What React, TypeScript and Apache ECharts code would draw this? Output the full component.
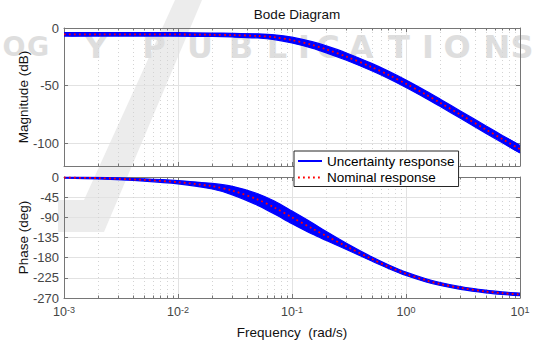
import React, { useEffect, useRef } from "react";
import * as echarts from "echarts";

// ---- data ----
const freq = [0.001, 0.002, 0.005, 0.01, 0.02, 0.03, 0.05, 0.07, 0.1, 0.15, 0.2, 0.3, 0.5, 0.7, 1, 1.5, 2, 3, 5, 7, 10];
const magNominal = [-5.5, -5.5, -5.5, -5.6, -5.9, -6.2, -6.9, -8.0, -10.5, -14.7, -18.6, -24.9, -34.0, -40.7, -48.5, -58.0, -65.1, -75.3, -88.2, -96.6, -105.4];
const magUpper = [-4.0, -4.0, -4.0, -4.1, -4.4, -4.6, -5.1, -5.9, -8.0, -11.9, -15.6, -21.7, -30.8, -37.5, -45.3, -54.8, -61.9, -72.1, -85.0, -93.4, -102.2];
const magLower = [-7.0, -7.0, -7.0, -7.1, -7.4, -7.8, -8.7, -10.1, -13.0, -17.5, -21.6, -28.1, -37.2, -43.9, -51.7, -61.2, -68.3, -78.5, -91.4, -99.8, -108.6];
const phaseNominal = [-1.5, -2.5, -6.5, -11.6, -20.6, -30.3, -50.3, -68.1, -90.1, -114.7, -131.7, -154.8, -182.8, -199.9, -216.0, -230.6, -238.7, -247.5, -255.5, -259.2, -262.1];
const phaseUpper = [-0.4, -0.7, -3.9, -7.9, -14.4, -20.8, -37.3, -53.6, -76.1, -102.2, -121.7, -147.8, -178.0, -195.7, -212.1, -227.0, -235.4, -244.4, -252.6, -256.4, -259.3];
const phaseLower = [-2.6, -4.3, -9.1, -15.3, -26.8, -39.8, -63.3, -82.6, -104.1, -127.2, -141.7, -161.8, -187.6, -204.1, -219.9, -234.2, -242.0, -250.6, -258.4, -262.0, -264.9];
const minorFreq = [
  0.002, 0.003, 0.004, 0.005, 0.006, 0.007, 0.008, 0.009,
  0.02, 0.03, 0.04, 0.05, 0.06, 0.07, 0.08, 0.09,
  0.2, 0.3, 0.4, 0.5, 0.6, 0.7, 0.8, 0.9,
  2, 3, 4, 5, 6, 7, 8, 9,
];
const freqRange = [0.001, 10];
const magRange = [-120, 0];
const phaseRange = [-270, 0];
const phaseStep = 45;
const legendNames = ["Uncertainty response", "Nominal response"];
const titleText = "Bode Diagram";
const magName = "Magnitude (dB)";
const phaseName = "Phase (deg)";
const freqName = "Frequency  (rad/s)";
const watermarkLetters: [string, number, number][] = [
  ["O", 14, 27], ["G", 38, 27], ["Y", 96, 32], ["P", 154, 32], ["U", 200, 32], ["B", 241, 32], ["L", 277, 32], ["I", 304, 32],
  ["C", 328, 32], ["A", 361, 32], ["T", 399, 32], ["I", 428, 32], ["O", 457, 32], ["N", 497, 32], ["S", 522, 32],
];

// ---- styles ----
const FONT = "'Liberation Sans', Arial, Helvetica, sans-serif";
const AX = "#767676";
const LBL = "#454545";
const GRID = "#e2e2e2";
const BLUE = "#0000ff";
const RED = "#ff0000";

const pair = (ys: number[]) => freq.map((f, i) => [f, ys[i]]);

const grids = [
  { left: 64, top: 28, width: 456, height: 138 },
  { left: 64, top: 177, width: 456, height: 121 },
];

function xAxis(g: number, pos: "bottom" | "top", labels: boolean) {
  return {
    type: "log",
    logBase: 10,
    gridIndex: g,
    position: pos,
    min: freqRange[0],
    max: freqRange[1],
    splitNumber: 4,
    name: labels ? freqName : "",
    nameLocation: "middle",
    nameGap: 27,
    nameTextStyle: { fontSize: 13.5, color: "#111", fontFamily: FONT },
    axisLine: { show: true, onZero: false, lineStyle: { color: AX, width: 1 } },
    axisTick: { show: true, inside: true, length: 4, lineStyle: { color: AX } },
    splitLine: { show: pos === "bottom", lineStyle: { color: GRID, width: 1 } },
    axisLabel: {
      show: labels,
      margin: 7,
      formatter: (v: number) => `{b|10}{e|${Math.round(Math.log10(v))}}`,
      rich: {
        b: { fontSize: 12.5, color: LBL, fontFamily: FONT, lineHeight: 13, padding: [7, 0, 0, 0], verticalAlign: "bottom" },
        e: { fontSize: 9, color: LBL, fontFamily: FONT, lineHeight: 10, verticalAlign: "top" },
      },
    },
  };
}

function yAxis(g: number, pos: "left" | "right", range: number[], step: number | null, name: string) {
  const left = pos === "left";
  const o: any = {
    type: "value",
    gridIndex: g,
    position: pos,
    min: range[0],
    max: range[1],
    name: left ? name : "",
    nameLocation: "middle",
    nameGap: 34,
    nameMoveOverlap: false,
    nameTextStyle: { fontSize: 13.5, color: "#111", fontFamily: FONT },
    axisLine: { show: true, onZero: false, lineStyle: { color: AX, width: 1 } },
    axisTick: { show: true, inside: true, length: 4, lineStyle: { color: AX } },
    splitLine: { show: left, lineStyle: { color: GRID, width: 1 } },
    axisLabel: { show: left, color: LBL, fontSize: 13, fontFamily: FONT, margin: 5, showMinLabel: step !== null },
  };
  if (step !== null) o.interval = step;
  else o.splitNumber = 3;
  return o;
}

function minorSeries(g: number, yMid: number) {
  return {
    type: "custom",
    xAxisIndex: g * 2,
    yAxisIndex: g * 2,
    silent: true,
    z: 1,
    data: minorFreq.map((f) => [f, yMid]),
    renderItem: (params: any, api: any) => {
      const cs = params.coordSys;
      const x = Math.round(api.coord([api.value(0), api.value(1)])[0]) + 0.5;
      const top = cs.y;
      const bot = cs.y + cs.height;
      return {
        type: "group",
        children: [
          { type: "line", shape: { x1: x, y1: top, x2: x, y2: bot }, style: { stroke: "#d3d3d3", lineWidth: 1, lineDash: [1, 3] } },
          { type: "line", shape: { x1: x, y1: bot, x2: x, y2: bot - 2.5 }, style: { stroke: AX, lineWidth: 1 } },
          { type: "line", shape: { x1: x, y1: top, x2: x, y2: top + 2.5 }, style: { stroke: AX, lineWidth: 1 } },
        ],
      };
    },
  };
}

// filled uncertainty band between the lower and upper bound curves
function bandFill(g: number, lower: number[], upper: number[]) {
  return {
    type: "custom",
    name: "band" + g,
    xAxisIndex: g * 2,
    yAxisIndex: g * 2,
    silent: true,
    clip: true,
    z: 3,
    data: freq.map((f, i) => [f, upper[i], lower[i]]),
    encode: { x: 0, y: [1, 2] },
    renderItem: (params: any, api: any) => {
      if (params.dataIndex !== 0) return null;
      const top = freq.map((f, i) => api.coord([f, upper[i]]));
      const bot = freq.map((f, i) => api.coord([f, lower[i]])).reverse();
      return {
        type: "polygon",
        shape: { points: top.concat(bot), smooth: 0.3 },
        style: { fill: BLUE },
      };
    },
  };
}

function edgeSeries(g: number, ys: number[]) {
  return {
    type: "line",
    name: legendNames[0],
    xAxisIndex: g * 2,
    yAxisIndex: g * 2,
    data: pair(ys),
    smooth: 0.3,
    symbol: "none",
    z: 3,
    lineStyle: { color: BLUE, width: 1.2 },
    itemStyle: { color: BLUE },
  };
}

function nominalSeries(g: number, ys: number[]) {
  return {
    type: "line",
    name: legendNames[1],
    xAxisIndex: g * 2,
    yAxisIndex: g * 2,
    data: pair(ys),
    smooth: 0.3,
    symbol: "none",
    z: 4,
    lineStyle: { color: RED, width: 1.8, type: [1.8, 3.2] },
    itemStyle: { color: RED },
  };
}

const option: any = {
  animation: false,
  backgroundColor: "#ffffff",
  title: {
    text: titleText,
    left: 292,
    top: 2,
    textAlign: "center",
    textStyle: { fontSize: 13.5, fontWeight: "normal", color: "#111", fontFamily: FONT },
  },
  legend: {
    data: legendNames,
    orient: "vertical",
    left: 294,
    top: 151,
    itemWidth: 24,
    itemHeight: 14,
    itemGap: 2.5,
    padding: [3, 4, 2, 3],
    backgroundColor: "#ffffff",
    borderColor: "#262626",
    borderWidth: 1,
    borderRadius: 0,
    selectedMode: false,
    z: 10,
    itemStyle: { opacity: 0 },
    textStyle: { fontSize: 13.5, color: "#000", fontFamily: FONT, lineHeight: 14 },
  },
  grid: grids,
  xAxis: [xAxis(0, "bottom", false), xAxis(0, "top", false), xAxis(1, "bottom", true), xAxis(1, "top", false)],
  yAxis: [
    yAxis(0, "left", magRange, null, magName),
    yAxis(0, "right", magRange, null, ""),
    yAxis(1, "left", phaseRange, phaseStep, phaseName),
    yAxis(1, "right", phaseRange, phaseStep, ""),
  ],
  graphic: [
    {
      type: "polygon",
      silent: true,
      z: -10,
      shape: { points: [[175, 0], [202, 0], [104, 232], [58, 232], [58, 200], [84, 200]] },
      style: { fill: "#ececec" },
    },
    ...watermarkLetters.map(([ch, x, size]) => ({
      type: "text",
      silent: true,
      z: -10,
      x,
      y: 46.5,
      style: {
        text: ch,
        fill: "#dedede",
        fontSize: size,
        fontWeight: "bold",
        fontFamily: "'DejaVu Sans'",
        lineHeight: 16,
        align: "center",
        verticalAlign: "middle",
      },
    })),
  ],
  series: [
    minorSeries(0, -60),
    minorSeries(1, -135),
    bandFill(0, magLower, magUpper),
    bandFill(1, phaseLower, phaseUpper),
    edgeSeries(0, magUpper),
    edgeSeries(0, magLower),
    edgeSeries(1, phaseUpper),
    edgeSeries(1, phaseLower),
    nominalSeries(0, magNominal),
    nominalSeries(1, phaseNominal),
  ],
};

export default function App() {
  const ref = useRef<HTMLDivElement>(null);
  useEffect(() => {
    const chart = echarts.init(ref.current as HTMLDivElement, null, { renderer: "svg" });
    chart.setOption(option);
    return () => chart.dispose();
  }, []);
  return (
    <div
      ref={ref}
      style={{ position: "absolute", left: 0, top: 0, width: 534, height: 342, background: "#fff" }}
    />
  );
}
